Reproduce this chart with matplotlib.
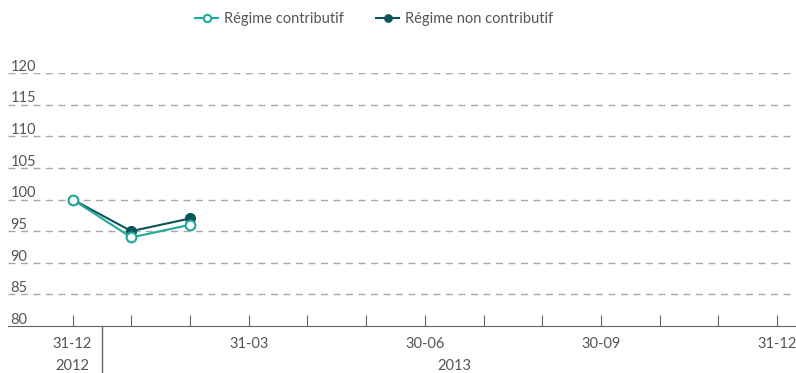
import matplotlib.pyplot as plt
import matplotlib.transforms as mtransforms

# data
positions = list(range(13))
month_labels = ["31-12", "", "", "31-03", "", "", "30-06", "", "", "30-09", "", "", "31-12"]
contributif = [100, 94, 96]
non_contributif = [100, 95, 97]
y_ticks = [80, 85, 90, 95, 100, 105, 110, 115, 120]

LIGHT = "#1fa99b"
DARK = "#0b5557"
TEXT = "#555555"
GRID = "#a8a8a8"

plt.rcParams["font.family"] = ["Lato", "DejaVu Sans"]

fig = plt.figure(figsize=(7.96, 3.73), dpi=100)
ax = fig.add_axes([8 / 796, 47 / 373, 1 - 8 / 796, 253 / 373])

ax.plot(positions[:3], non_contributif, color=DARK, lw=1.5, marker="o", ms=7,
        mfc=DARK, mec=DARK, label="Régime non contributif", zorder=3)
ax.plot(positions[:3], contributif, color=LIGHT, lw=1.5, marker="o", ms=7,
        mfc="white", mec=LIGHT, mew=1.5, label="Régime contributif", zorder=4)

ax.set_xlim(-1.1, 12.32)
ax.set_ylim(80, 120)

for y in y_ticks[1:]:
    ax.axhline(y, color=GRID, lw=1, ls=(0, (5, 4)), zorder=1)

trans = mtransforms.blended_transform_factory(ax.transAxes, ax.transData)
for y in y_ticks:
    ax.text(0.003, y + 0.35, str(y), transform=trans, ha="left", va="baseline",
            fontsize=10.5, color=TEXT)

ax.set_yticks([])
for s in ["top", "right", "left"]:
    ax.spines[s].set_visible(False)
ax.spines["bottom"].set_color("#666666")

ax.set_xticks(positions)
ax.set_xticklabels(month_labels)
ax.tick_params(axis="x", direction="in", length=8, color="#666666", pad=8,
               labelsize=10.5, labelcolor=TEXT)

xtrans = mtransforms.blended_transform_factory(ax.transData, fig.transFigure)
ax.text(0, 7 / 373, "2012", transform=xtrans, ha="center", va="center",
        fontsize=10.5, color=TEXT)
ax.text(6.5, 7 / 373, "2013", transform=xtrans, ha="center", va="center",
        fontsize=10.5, color=TEXT)
ax.plot([0.5, 0.5], [0, 47 / 373], transform=xtrans, color="#666666", lw=1,
        clip_on=False)

handles, labels = ax.get_legend_handles_labels()
fig.legend(handles[::-1], labels[::-1], loc="center", bbox_to_anchor=(0.47, 0.948),
           ncol=2, frameon=False, fontsize=10.5, handlelength=1.6,
           handletextpad=0.4, columnspacing=2.2, labelcolor=TEXT, markerscale=0.75)

fig.savefig("out.png", dpi=100)
